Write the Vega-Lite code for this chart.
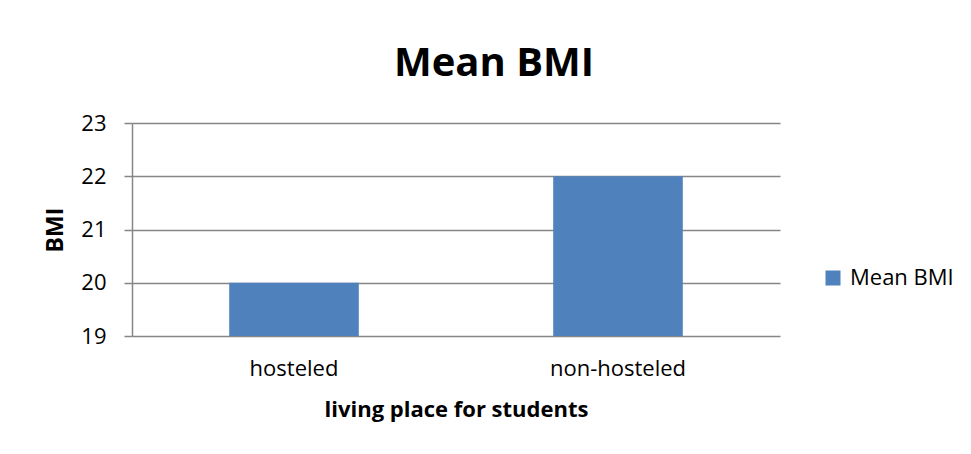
{
  "$schema": "https://vega.github.io/schema/vega-lite/v6.json",
  "autosize": {"type": "none"},
  "width": 648,
  "height": 213,
  "padding": {"left": 132, "top": 123, "right": 191, "bottom": 118},
  "background": "white",
  "title": {
    "text": "Mean BMI",
    "font": "Open Sans",
    "fontSize": 40,
    "fontWeight": "bold",
    "color": "black",
    "anchor": "middle",
    "baseline": "alphabetic",
    "offset": 46,
    "dx": 38,
    "dy": 50
  },
  "data": {
    "values": [
      {"place": "hosteled", "bmi": 20, "series": "Mean BMI"},
      {"place": "non-hosteled", "bmi": 22, "series": "Mean BMI"}
    ]
  },
  "mark": {"type": "bar"},
  "encoding": {
    "x": {
      "field": "place",
      "type": "nominal",
      "sort": null,
      "scale": {"paddingInner": 0.6, "paddingOuter": 0.3},
      "axis": {
        "title": "living place for students",
        "titleFont": "Open Sans",
        "titleFontSize": 22,
        "titleFontWeight": "bold",
        "titleColor": "black",
        "titlePadding": 20,
        "labelFont": "Open Sans",
        "labelFontSize": 22,
        "labelColor": "black",
        "labelAngle": 0,
        "labelPadding": 22,
        "ticks": false,
        "domain": false,
        "grid": false
      }
    },
    "y": {
      "field": "bmi",
      "type": "quantitative",
      "scale": {"domain": [19, 23], "zero": false, "nice": false},
      "axis": {
        "title": "BMI",
        "titleFont": "Open Sans",
        "titleFontSize": 23,
        "titleFontWeight": "bold",
        "titleColor": "black",
        "titlePadding": 13,
        "values": [19, 20, 21, 22, 23],
        "labelFont": "Open Sans",
        "labelFontSize": 22,
        "labelColor": "black",
        "labelPadding": 18,
        "tickSize": 8,
        "tickColor": "#868686",
        "tickWidth": 1.5,
        "domainColor": "#868686",
        "domainWidth": 1.5,
        "grid": true,
        "gridColor": "#868686",
        "gridWidth": 1.5
      }
    },
    "y2": {"datum": 19},
    "color": {
      "field": "series",
      "type": "nominal",
      "scale": {"range": ["#4F81BD"]},
      "legend": {
        "title": null,
        "orient": "none",
        "legendX": 690,
        "legendY": 144,
        "symbolType": "square",
        "symbolSize": 225,
        "symbolStrokeWidth": 0,
        "labelFont": "Open Sans",
        "labelFontSize": 22,
        "labelColor": "black",
        "labelOffset": 6,
        "padding": 0
      }
    }
  },
  "config": {"view": {"stroke": null}}
}
